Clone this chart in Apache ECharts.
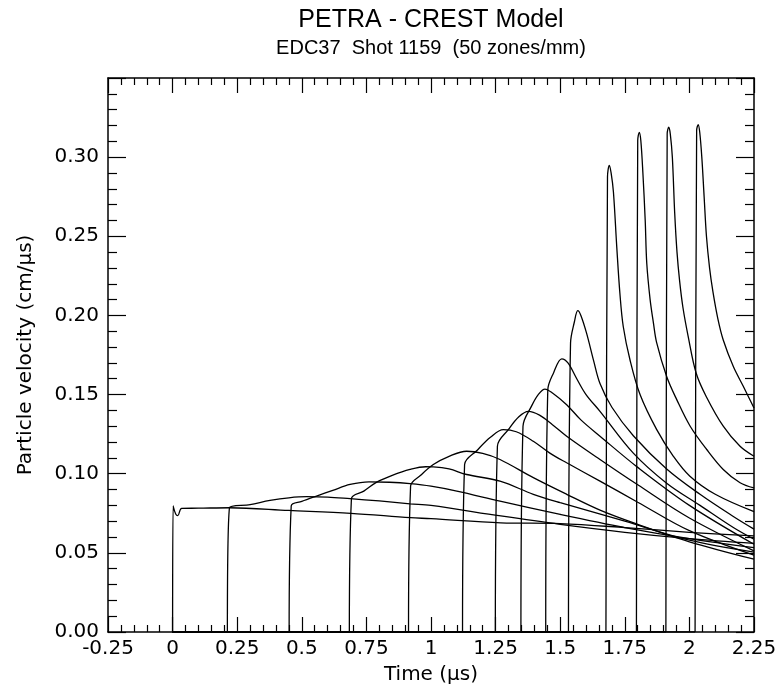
<!DOCTYPE html>
<html>
<head>
<meta charset="utf-8">
<script src="https://cdn.jsdelivr.net/npm/echarts@6/dist/echarts.min.js"></script>
<style>html,body{margin:0;padding:0;background:#fff;}#chart{width:782px;height:690px;}</style>
</head>
<body>
<div id="chart"></div>
<script>
// Particle velocity records (time µs, velocity cm/µs), one per gauge; first point = arrival foot
const gauge01 = [[0,0],[0.002,0.0796],[0.012,0.0745],[0.02,0.0735],[0.035,0.0781],[0.1,0.0782],[0.22,0.0785],[0.45,0.0768],[0.69,0.075],[0.92,0.0722],[1.0,0.0716],[1.27,0.069],[1.5,0.0685],[1.75,0.066],[2.0,0.063],[2.25,0.0607]];
const gauge02 = [[0.212,0],[0.22,0.0785],[0.3,0.0805],[0.377,0.0831],[0.45,0.0848],[0.52,0.0855],[0.6,0.0852],[0.687,0.0842],[0.8,0.0828],[0.919,0.081],[1.0,0.080],[1.27,0.0733],[1.5,0.068],[1.75,0.063],[2.0,0.059],[2.25,0.056]];
const gauge03 = [[0.451,0],[0.459,0.0796],[0.5,0.0825],[0.557,0.0859],[0.62,0.0895],[0.687,0.0932],[0.76,0.0949],[0.84,0.0946],[0.919,0.0937],[1.0,0.0921],[1.1,0.089],[1.267,0.0827],[1.5,0.0743],[1.75,0.066],[2.0,0.059],[2.25,0.0533]];
const gauge04 = [[0.684,0],[0.692,0.0842],[0.74,0.089],[0.79,0.0947],[0.85,0.099],[0.919,0.1027],[0.98,0.1044],[1.009,0.1043],[1.07,0.103],[1.138,0.0995],[1.267,0.0953],[1.396,0.087],[1.5,0.0817],[1.75,0.070],[2.0,0.058],[2.25,0.0505]];
const gauge05 = [[0.913,0],[0.921,0.0922],[0.96,0.099],[1.009,0.1058],[1.07,0.111],[1.138,0.1142],[1.2,0.1128],[1.267,0.109],[1.396,0.0975],[1.525,0.087],[1.654,0.077],[1.8,0.068],[2.0,0.057],[2.25,0.046]];
const gauge06 = [[1.122,0],[1.13,0.1058],[1.18,0.115],[1.23,0.123],[1.28,0.1279],[1.33,0.1265],[1.396,0.1205],[1.46,0.113],[1.525,0.1069],[1.654,0.0953],[1.8,0.082],[2.0,0.064],[2.25,0.0485]];
const gauge07 = [[1.249,0],[1.257,0.1174],[1.3,0.128],[1.34,0.136],[1.377,0.1394],[1.42,0.137],[1.47,0.131],[1.525,0.1237],[1.654,0.109],[1.8,0.093],[2.0,0.072],[2.25,0.0512]];
const gauge08 = [[1.348,0],[1.356,0.130],[1.39,0.143],[1.415,0.150],[1.441,0.1535],[1.47,0.151],[1.525,0.1436],[1.58,0.134],[1.654,0.1237],[1.8,0.104],[2.0,0.080],[2.25,0.0554]];
const gauge09 = [[1.444,0],[1.452,0.153],[1.475,0.164],[1.506,0.1726],[1.53,0.170],[1.564,0.160],[1.6,0.150],[1.654,0.1394],[1.783,0.113],[1.912,0.094],[2.041,0.08],[2.17,0.066],[2.25,0.0586]];
const gauge10 = [[1.532,0],[1.54,0.1825],[1.555,0.196],[1.568,0.203],[1.58,0.2],[1.602,0.1888],[1.63,0.171],[1.654,0.157],[1.7,0.142],[1.783,0.124],[1.912,0.103],[2.041,0.087],[2.17,0.073],[2.25,0.065]];
const gauge11 = [[1.677,0],[1.683,0.2874],[1.69,0.2948],[1.697,0.29],[1.706,0.278],[1.719,0.243],[1.731,0.214],[1.744,0.193],[1.770,0.172],[1.809,0.15],[1.873,0.128],[1.938,0.111],[2.002,0.0984],[2.1,0.087],[2.25,0.076]];
const gauge12 = [[1.795,0],[1.8,0.3105],[1.806,0.3157],[1.812,0.3105],[1.820,0.290],[1.829,0.26],[1.835,0.233],[1.848,0.21],[1.861,0.195],[1.873,0.183],[1.912,0.1614],[1.951,0.1468],[2.003,0.130],[2.067,0.1153],[2.131,0.1027],[2.196,0.0943],[2.25,0.091]];
const gauge13 = [[1.909,0],[1.914,0.3147],[1.92,0.3189],[1.926,0.3147],[1.934,0.30],[1.943,0.265],[1.952,0.24],[1.962,0.222],[1.975,0.205],[1.995,0.187],[2.026,0.1636],[2.065,0.1488],[2.131,0.130],[2.196,0.1173],[2.25,0.111]];
const gauge14 = [[2.022,0],[2.028,0.3168],[2.034,0.3206],[2.04,0.3157],[2.048,0.300],[2.057,0.275],[2.066,0.25],[2.078,0.23],[2.091,0.215],[2.11,0.198],[2.131,0.1845],[2.17,0.1677],[2.209,0.1551],[2.25,0.1415]];

const gauges = [gauge01,gauge02,gauge03,gauge04,gauge05,gauge06,gauge07,gauge08,gauge09,gauge10,gauge11,gauge12,gauge13,gauge14];
const recordStart = 0; // all records are zero from t = 0 until arrival

const xTickStep = 0.25;
const yTickStep = 0.05;

const FONT = 'Liberation Sans, Arial, Helvetica, sans-serif';
const AXFONT = 'DejaVu Sans, Verdana, sans-serif';
const chart = echarts.init(document.getElementById('chart'), null, {renderer:'canvas'});

const axisLine = {show:true, onZero:false, lineStyle:{color:'#000', width:1.5}};
function xAx(pos, labels){
  return {
    type:'value', position:pos, min:-0.25, max:2.25, interval:xTickStep,
    axisLine:axisLine,
    axisTick:{show:true, inside:true, length:15, lineStyle:{color:'#000', width:1.2}},
    minorTick:{show:true, splitNumber:5, length:7, lineStyle:{color:'#000', width:1.2}},
    splitLine:{show:false}, minorSplitLine:{show:false},
    axisLabel:{show:labels, color:'#000', fontSize:20, fontFamily:AXFONT, margin:7},
    name: labels ? 'Time (\u00b5s)' : '', nameLocation:'middle', nameGap:33,
    nameTextStyle:{color:'#000', fontSize:20, fontFamily:AXFONT}
  };
}
function yAx(pos, labels){
  return {
    type:'value', position:pos, min:0, max:0.35, interval:yTickStep,
    axisLine:axisLine,
    axisTick:{show:true, inside:true, length:18, lineStyle:{color:'#000', width:1.2}},
    minorTick:{show:true, splitNumber:5, length:9, lineStyle:{color:'#000', width:1.2}},
    splitLine:{show:false}, minorSplitLine:{show:false},
    axisLabel:{show:labels, color:'#000', fontSize:20, fontFamily:AXFONT, margin:9, showMaxLabel:false,
      formatter:function(v){return v.toFixed(2);}},
    name: labels ? 'Particle velocity (cm/\u00b5s)' : '', nameLocation:'middle', nameGap:72,
    nameTextStyle:{color:'#000', fontSize:20, fontFamily:AXFONT}
  };
}

const option = {
  backgroundColor:'#fff',
  animation:false,
  grid:{left:108, right:28, top:78, bottom:57, containLabel:false},
  graphic:[
    {type:'text', x:431, y:8, style:{text:'PETRA - CREST Model', textAlign:'center', fill:'#000', font:'25px '+FONT}},
    {type:'text', x:431, y:38, style:{text:'EDC37  Shot 1159  (50 zones/mm)', textAlign:'center', fill:'#000', font:'20px '+FONT}}
  ],
  xAxis:[xAx('bottom', true), xAx('top', false)],
  yAxis:[yAx('left', true), yAx('right', false)],
  series: gauges.map(function(g, i){
    // zero baseline up to the arrival foot, then the record itself (smoothed separately)
    const data = [[recordStart, 0], g[0], null].concat(g);
    return {type:'line', name:'g'+(i+1), data:data, xAxisIndex:0, yAxisIndex:0,
      showSymbol:false, symbol:'none', smooth:0.35, connectNulls:false, clip:true,
      lineStyle:{color:'#000', width:1.3}};
  })
};
chart.setOption(option);
</script>
</body>
</html>
